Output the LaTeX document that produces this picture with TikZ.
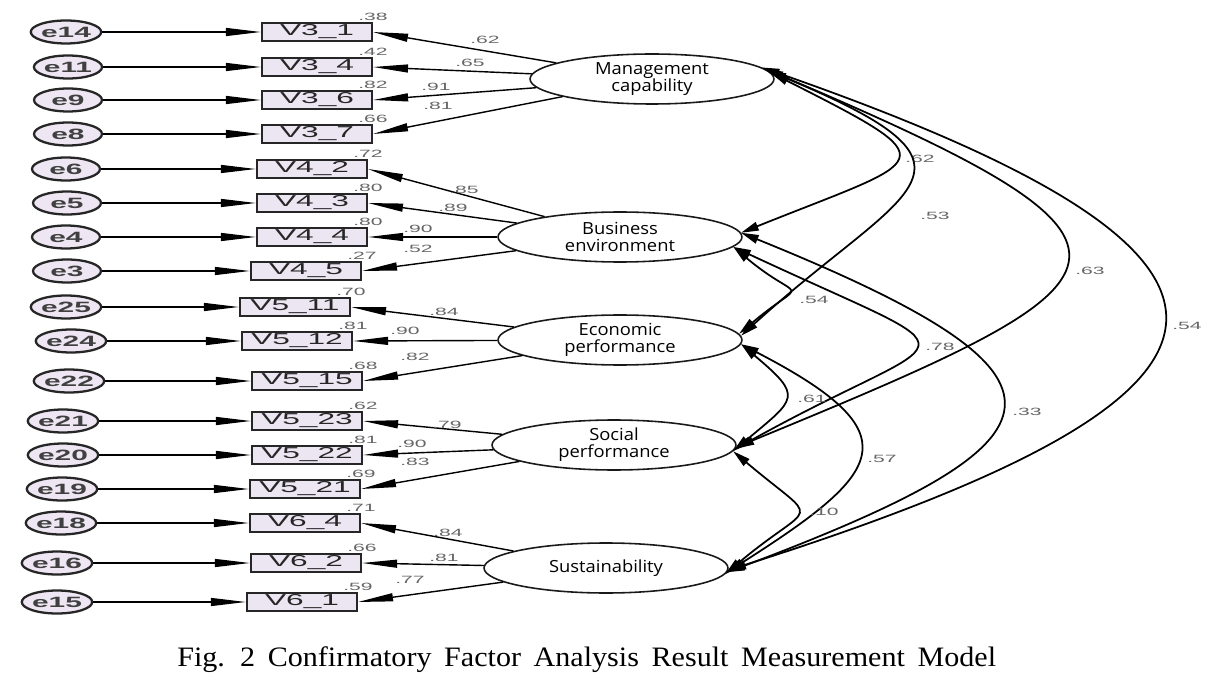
\documentclass[tikz,border=0pt]{standalone}
\usepackage{fontspec}
\setmainfont{Liberation Serif}
\newfontfamily\amosfont[FakeStretch=2.0]{Liberation Sans}
\newfontfamily\latentfont[FakeStretch=1.1]{Open Sans}
\newfontfamily\captionfont[FakeStretch=1.07]{Liberation Serif}
\usetikzlibrary{arrows.meta,shapes.geometric}
\definecolor{boxfill}{HTML}{ECE6F2}
\definecolor{errfill}{HTML}{EEE6F3}
\definecolor{numgray}{HTML}{666666}
\begin{document}
\begin{tikzpicture}[x=0.02cm,y=-0.02cm,
  obs/.style={rectangle,draw=black!85,line width=1.1pt,fill=boxfill,minimum width=2.2cm,minimum height=0.37cm,inner sep=0pt,text=black!85,font=\amosfont\fontsize{9}{9}\selectfont},
  err/.style={ellipse,draw=black!85,line width=1.3pt,fill=errfill,minimum width=1.36cm,minimum height=0.46cm,inner sep=0pt,text=black!75,font=\amosfont\bfseries\fontsize{8.5}{8.5}\selectfont},
  latent/.style={ellipse,draw=black!90,line width=0.9pt,minimum width=4.88cm,minimum height=1cm,inner sep=0pt,align=center,font=\latentfont\fontsize{9.5}{9.5}\selectfont},
  coef/.style={text=numgray,inner sep=0.5pt,font=\amosfont\fontsize{6}{6}\selectfont},
  errpath/.style={line width=0.9pt,-{Triangle[length=20pt,width=4.5pt]}},
  load/.style={line width=0.8pt,-{Triangle[length=20pt,width=4.5pt]}},
  cov/.style={line width=1pt,{Triangle[length=10pt,width=5pt]}-{Triangle[length=10pt,width=5pt]}}]
\useasboundingbox (0,0) rectangle (1223,675);
% latent factors
\draw (652,79) node[latent] (mc) {Management\\capability};
\draw (620,237) node[latent] (be) {Business\\environment};
\draw (620,340) node[latent] (ep) {Economic\\performance};
\draw (614,445) node[latent] (sp) {Social\\performance};
\draw (606,568) node[latent] (sus) {Sustainability};
% management capability items
\draw (66,32) node[err] (e14) {e14};
\draw (317,32) node[obs] (v31) {V3\_1};
\draw[errpath] (e14) -- (v31);
\draw[load] (mc) -- (v31.east);
\draw (v31.north east) node[coef,above] {.38};
\draw (485,40) node[coef] {.62};
\draw (68,67) node[err] (e11) {e11};
\draw (317,67) node[obs] (v34) {V3\_4};
\draw[errpath] (e11) -- (v34);
\draw[load] (mc) -- (v34.east);
\draw (v34.north east) node[coef,above] {.42};
\draw (470,63) node[coef] {.65};
\draw (68,100) node[err] (e9) {e9};
\draw (317,100) node[obs] (v36) {V3\_6};
\draw[errpath] (e9) -- (v36);
\draw[load] (mc) -- (v36.east);
\draw (v36.north east) node[coef,above] {.82};
\draw (436,87) node[coef] {.91};
\draw (68,134) node[err] (e8) {e8};
\draw (317,134) node[obs] (v37) {V3\_7};
\draw[errpath] (e8) -- (v37);
\draw[load] (mc) -- (v37.east);
\draw (v37.north east) node[coef,above] {.66};
\draw (438,106) node[coef] {.81};
% business environment items
\draw (66,169) node[err] (e6) {e6};
\draw (312,169) node[obs] (v42) {V4\_2};
\draw[errpath] (e6) -- (v42);
\draw[load] (be) -- (v42.east);
\draw (v42.north east) node[coef,above] {.72};
\draw (464,190) node[coef] {.85};
\draw (67,203) node[err] (e5) {e5};
\draw (312,203) node[obs] (v43) {V4\_3};
\draw[errpath] (e5) -- (v43);
\draw[load] (be) -- (v43.east);
\draw (v43.north east) node[coef,above] {.80};
\draw (453,208) node[coef] {.89};
\draw (66,237) node[err] (e4) {e4};
\draw (312,237) node[obs] (v44) {V4\_4};
\draw[errpath] (e4) -- (v44);
\draw[load] (be) -- (v44.east);
\draw (v44.north east) node[coef,above] {.80};
\draw (418,229) node[coef] {.90};
\draw (67,271) node[err] (e3) {e3};
\draw (306,271) node[obs] (v45) {V4\_5};
\draw[errpath] (e3) -- (v45);
\draw[load] (be) -- (v45.east);
\draw (v45.north east) node[coef,above] {.27};
\draw (418,249) node[coef] {.52};
% economic performance items
\draw (66,307) node[err] (e25) {e25};
\draw (295,307) node[obs] (v511) {V5\_11};
\draw[errpath] (e25) -- (v511);
\draw[load] (ep) -- (v511.east);
\draw (v511.north east) node[coef,above] {.70};
\draw (444,312) node[coef] {.84};
\draw (71,341) node[err] (e24) {e24};
\draw (297,341) node[obs] (v512) {V5\_12};
\draw[errpath] (e24) -- (v512);
\draw[load] (ep) -- (v512.east);
\draw (v512.north east) node[coef,above] {.81};
\draw (405,331) node[coef] {.90};
\draw (69,381) node[err] (e22) {e22};
\draw (307,381) node[obs] (v515) {V5\_15};
\draw[errpath] (e22) -- (v515);
\draw[load] (ep) -- (v515.east);
\draw (v515.north east) node[coef,above] {.68};
\draw (415,357) node[coef] {.82};
% social performance items
\draw (63,421) node[err] (e21) {e21};
\draw (307,421) node[obs] (v523) {V5\_23};
\draw[errpath] (e21) -- (v523);
\draw[load] (sp) -- (v523.east);
\draw (v523.north east) node[coef,above] {.62};
\draw (447,425) node[coef] {.79};
\draw (63,455) node[err] (e20) {e20};
\draw (307,455) node[obs] (v522) {V5\_22};
\draw[errpath] (e20) -- (v522);
\draw[load] (sp) -- (v522.east);
\draw (v522.north east) node[coef,above] {.81};
\draw (412,444) node[coef] {.90};
\draw (62,489) node[err] (e19) {e19};
\draw (305,489) node[obs] (v521) {V5\_21};
\draw[errpath] (e19) -- (v521);
\draw[load] (sp) -- (v521.east);
\draw (v521.north east) node[coef,above] {.69};
\draw (415,462) node[coef] {.83};
% sustainability items
\draw (61,523) node[err] (e18) {e18};
\draw (305,523) node[obs] (v64) {V6\_4};
\draw[errpath] (e18) -- (v64);
\draw[load] (sus) -- (v64.east);
\draw (v64.north east) node[coef,above] {.71};
\draw (448,533) node[coef] {.84};
\draw (57,563) node[err] (e16) {e16};
\draw (306,563) node[obs] (v62) {V6\_2};
\draw[errpath] (e16) -- (v62);
\draw[load] (sus) -- (v62.east);
\draw (v62.north east) node[coef,above] {.66};
\draw (444,558) node[coef] {.81};
\draw (57,602) node[err] (e15) {e15};
\draw (302,602) node[obs] (v61) {V6\_1};
\draw[errpath] (e15) -- (v61);
\draw[load] (sus) -- (v61.east);
\draw (v61.north east) node[coef,above] {.59};
\draw (410,580) node[coef] {.77};
% covariances
\draw[cov] (mc.3) .. controls +(182,92) and +(189,-76) .. (be.2);
\draw (920,159) node[coef] {.62};
\draw[cov] (mc.4) .. controls +(240,100) and +(165,-150) .. (ep.2);
\draw (935,216) node[coef] {.53};
\draw[cov] (mc.5) .. controls +(426,180) and +(411,-169) .. (sp.-1);
\draw (1090,271) node[coef] {.63};
\draw[cov] (mc.6) .. controls +(560,195) and +(551,-175) .. (sus.-1);
\draw (1187,326) node[coef] {.54};
\draw[cov] (be.-5) .. controls +(69,58) and +(69,-58) .. (ep.3);
\draw (814,300) node[coef] {.54};
\draw[cov] (be.-5) .. controls +(257,120) and +(224,-125) .. (sp.-2);
\draw (940,347) node[coef] {.78};
\draw[cov] (be.2) .. controls +(358,145) and +(353,-133) .. (sus.-2);
\draw (1027,412) node[coef] {.33};
\draw[cov] (ep.-2) .. controls +(63,53) and +(63,-53) .. (sp.-3);
\draw (812,399) node[coef] {.61};
\draw[cov] (ep.-2) .. controls +(174,90) and +(157,-100) .. (sus.-2);
\draw (882,459) node[coef] {.57};
\draw[cov] (sp.-3) .. controls +(90,76) and +(90,-76) .. (sus.-3);
\draw (824,512) node[coef] {.10};
% caption
\draw (177,666) node[anchor=base west,inner sep=0pt,font=\captionfont\fontsize{16}{16}\selectfont] (cap) {\spaceskip=0.45em Fig. 2 Confirmatory Factor Analysis Result Measurement Model};
\end{tikzpicture}
\end{document}
